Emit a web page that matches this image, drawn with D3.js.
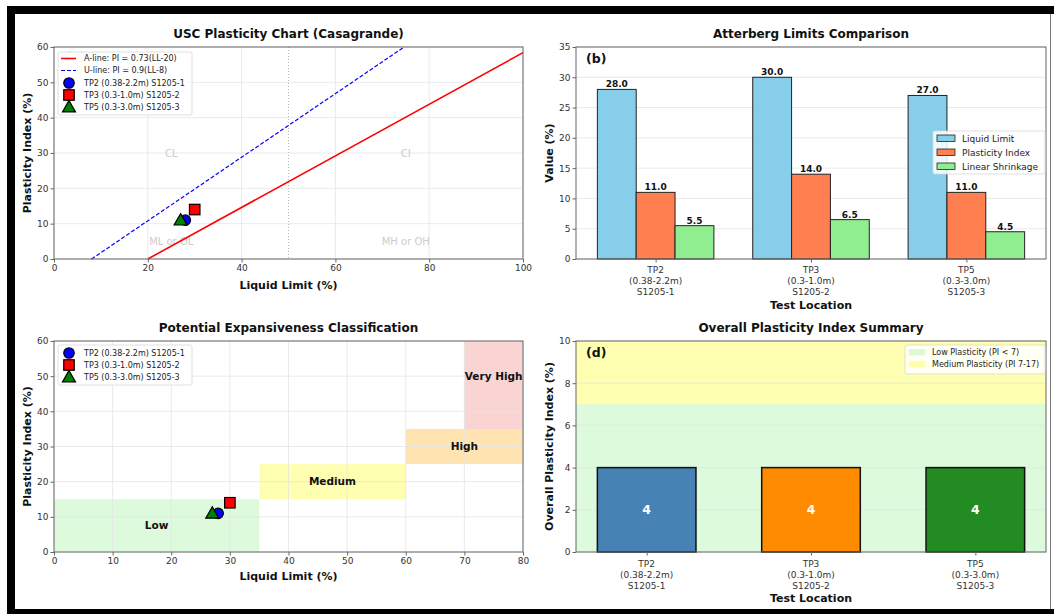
<!DOCTYPE html>
<html>
<head>
<meta charset="utf-8">
<script src="https://cdn.jsdelivr.net/npm/d3@7"></script>
<style>
body { margin: 0; background: #fff; font-family: "DejaVu Sans", sans-serif; }
.tick text { font-size: 9px; fill: #333; font-family: "DejaVu Sans", sans-serif; }
.tick line { stroke: #666; }
.domain { stroke: none; }
.title { font-size: 12px; font-weight: bold; fill: #111; }
.labels { font-size: 11px; font-weight: bold; fill: #111; }
.leg { font-size: 8px; fill: #222; }
.loc { font-size: 9px; fill: #333; font-family: "DejaVu Sans", sans-serif; }
</style>
</head>
<body>
<div id="chart"></div>
<script>
// sample data
var samples = ['TP2 (0.38-2.2m) S1205-1', 'TP3 (0.3-1.0m) S1205-2', 'TP5 (0.3-3.0m) S1205-3']
var locationLines = [['TP2', '(0.38-2.2m)', 'S1205-1'], ['TP3', '(0.3-1.0m)', 'S1205-2'], ['TP5', '(0.3-3.0m)', 'S1205-3']]
var liquidLimit = [28, 30, 27]
var plasticityIndex = [11, 14, 11]
var linearShrinkage = [5.5, 6.5, 4.5]
var overallPI = [4, 4, 4]
var markerShapes = ['circle', 'square', 'triangle']
var markerColors = ['blue', 'red', 'green']

var barSeries = ['Liquid Limit', 'Plasticity Index', 'Linear Shrinkage']
var barColors = ['#87CEEB', '#FF7F50', '#90EE90']
var summaryColors = ['#4682B4', '#FF8C00', '#228B22']

// casagrande chart lines and zone names
var aLineLL = [20, 100]
var uLineLL = [8, 74.67]
var casaZones = [
    {name: 'CL', ll: 25, pi: 30}, {name: 'CI', ll: 75, pi: 30},
    {name: 'ML or OL', ll: 25, pi: 5}, {name: 'MH or OH', ll: 75, pi: 5}
]

// expansiveness classes
var expZones = [
    {name: 'Low', ll0: 0, ll1: 35, pi0: 0, pi1: 15, pi: 7.5, color: 'rgba(144,238,144,0.3)'},
    {name: 'Medium', ll0: 35, ll1: 60, pi0: 15, pi1: 25, pi: 20, color: 'rgba(255,255,0,0.3)'},
    {name: 'High', ll0: 60, ll1: 80, pi0: 25, pi1: 35, pi: 30, color: 'rgba(255,165,0,0.3)'},
    {name: 'Very High', ll0: 70, ll1: 80, pi0: 35, pi1: 60, pi: 50, color: 'rgba(240,128,128,0.35)'}
]

// plasticity bands for the summary
var piBands = [
    {name: 'Low Plasticity (PI < 7)', lo: 0, hi: 7, color: 'rgba(144,238,144,0.3)'},
    {name: 'Medium Plasticity (PI 7-17)', lo: 7, hi: 17, color: 'rgba(255,255,0,0.3)'}
]

var svg = d3.select('#chart').append('svg')
    .attr('width', 1054).attr('height', 614)

// page frame
svg.append('rect').attr('x', 7).attr('y', 6).attr('width', 1047).attr('height', 608).attr('fill', '#000')
svg.append('rect').attr('x', 15).attr('y', 14).attr('width', 1039).attr('height', 595).attr('fill', '#fff')
svg.append('line').attr('x1', 1050.5).attr('x2', 1050.5).attr('y1', 14).attr('y2', 609).attr('stroke', '#777')

function marker(g, shape, color, cx, cy, s) {
    if (shape == 'circle') {
        g.append('circle').attr('cx', cx).attr('cy', cy).attr('r', s / 2)
            .attr('fill', color).attr('stroke', '#000').attr('stroke-width', 1.2)
    } else if (shape == 'square') {
        g.append('rect').attr('x', cx - s / 2).attr('y', cy - s / 2).attr('width', s).attr('height', s)
            .attr('fill', color).attr('stroke', '#000').attr('stroke-width', 1.2)
    } else {
        var t = s * 0.62
        g.append('path').attr('d', 'M' + cx + ',' + (cy - t) + 'L' + (cx + t) + ',' + (cy + t * 0.75) + 'L' + (cx - t) + ',' + (cy + t * 0.75) + 'Z')
            .attr('fill', color).attr('stroke', '#000').attr('stroke-width', 1.2)
    }
}

// common axes frame: grid, ticks, spines, titles
function panel(box, x, y, opts) {
    var g = svg.append('g')
    var w = box.r - box.l, h = box.b - box.t
    g.body = g.append('g')
    var grid = g.append('g')
    if (opts.xgrid) {
        grid.selectAll('.vg').data(opts.xticks).enter().append('line')
            .attr('x1', d => x(d)).attr('x2', d => x(d)).attr('y1', box.t).attr('y2', box.b)
            .attr('stroke', '#e4e4e4').attr('stroke-width', 0.8)
    }
    grid.selectAll('.hg').data(opts.yticks).enter().append('line')
        .attr('x1', box.l).attr('x2', box.r).attr('y1', d => y(d)).attr('y2', d => y(d))
        .attr('stroke', '#e4e4e4').attr('stroke-width', 0.8)
    g.plot = g.append('g')
    g.append('g').attr('transform', 'translate(' + box.l + ',0)')
        .call(d3.axisLeft(y).tickValues(opts.yticks).tickSize(3.5).tickPadding(2).tickFormat(d3.format('d')))
    g.xaxis = g.append('g').attr('transform', 'translate(0,' + box.b + ')')
    g.append('rect').attr('x', box.l).attr('y', box.t).attr('width', w).attr('height', h)
        .attr('fill', 'none').attr('stroke', '#666').attr('stroke-width', 1)
    g.append('text').attr('class', 'title').attr('x', (box.l + box.r) / 2).attr('y', box.t - 9)
        .attr('text-anchor', 'middle').text(opts.title)
    g.append('text').attr('class', 'labels').attr('text-anchor', 'middle')
        .attr('transform', 'translate(' + (box.l - 23) + ',' + ((box.t + box.b) / 2) + ') rotate(-90)')
        .text(opts.ylabel)
    g.append('text').attr('class', 'labels').attr('text-anchor', 'middle')
        .attr('x', (box.l + box.r) / 2).attr('y', box.b + opts.xlabelGap).text(opts.xlabel)
    return g
}

function legendBox(x0, y0, w, h) {
    var g = svg.append('g')
    g.append('rect').attr('x', x0).attr('y', y0).attr('width', w).attr('height', h).attr('rx', 2)
        .attr('fill', 'rgba(255,255,255,0.85)').attr('stroke', '#d8d8d8').attr('stroke-width', 0.8)
    return g
}

function locationTicks(g, x, top) {
    g.xaxis.call(d3.axisBottom(x).tickValues([0, 1, 2]).tickSize(3.5).tickFormat(''))
    var lab = g.xaxis.selectAll('.loc').data(locationLines).enter().append('text')
        .attr('class', 'loc').attr('text-anchor', 'middle')
    lab.each(function(d, i) {
        d3.select(this).selectAll('tspan').data(d).enter().append('tspan')
            .attr('x', x(i)).attr('y', (t, j) => top + j * 11.2).text(t => t)
    })
}

// ---------- (a) Casagrande chart ----------
var boxA = {l: 54, r: 523, t: 47, b: 259}
var xA = d3.scaleLinear().domain([0, 100]).range([boxA.l, boxA.r])
var yA = d3.scaleLinear().domain([0, 60]).range([boxA.b, boxA.t])
var pA = panel(boxA, xA, yA, {xgrid: true, xticks: [0, 20, 40, 60, 80, 100], yticks: [0, 10, 20, 30, 40, 50, 60],
    title: 'USC Plasticity Chart (Casagrande)', ylabel: 'Plasticity Index (%)', xlabel: 'Liquid Limit (%)', xlabelGap: 30})
pA.xaxis.call(d3.axisBottom(xA).tickValues([0, 20, 40, 60, 80, 100]).tickSize(3.5).tickPadding(2))

pA.plot.append('line').attr('x1', xA(50)).attr('x2', xA(50)).attr('y1', boxA.t).attr('y2', boxA.b)
    .attr('stroke', '#aaa').attr('stroke-width', 0.8).attr('stroke-dasharray', '1,2')
pA.plot.selectAll('.zone').data(casaZones).enter().append('text')
    .attr('x', d => xA(d.ll)).attr('y', d => yA(d.pi)).attr('dy', '0.35em').attr('text-anchor', 'middle')
    .style('font-size', '10px').style('fill', '#ccc').text(d => d.name)
pA.plot.append('text').attr('x', boxA.l + 12).attr('y', boxA.t + 14).style('font-size', '12px')
    .style('font-weight', 'bold').style('fill', '#ddd').text('(a)')

var aLine = d3.line().x(d => xA(d)).y(d => yA(0.73 * (d - 20)))
var uLine = d3.line().x(d => xA(d)).y(d => yA(0.9 * (d - 8)))
pA.plot.append('path').attr('d', aLine(aLineLL)).attr('stroke', 'red').attr('stroke-width', 1.6).attr('fill', 'none')
pA.plot.append('path').attr('d', uLine(uLineLL)).attr('stroke', 'blue').attr('stroke-width', 1.2)
    .attr('stroke-dasharray', '4,2').attr('fill', 'none')

samples.forEach(function(s, i) {
    marker(pA.plot, markerShapes[i], markerColors[i], xA(liquidLimit[i]), yA(plasticityIndex[i]), 10.5)
})

var legA = legendBox(58, 52, 134, 63)
legA.append('line').attr('x1', 61).attr('x2', 76).attr('y1', 58.5).attr('y2', 58.5).attr('stroke', 'red').attr('stroke-width', 1.6)
legA.append('line').attr('x1', 61).attr('x2', 76).attr('y1', 70.5).attr('y2', 70.5).attr('stroke', 'blue')
    .attr('stroke-width', 1.2).attr('stroke-dasharray', '4,2')
legA.append('text').attr('class', 'leg').attr('x', 84).attr('y', 58.5).attr('dy', '0.35em').text('A-line: PI = 0.73(LL-20)')
legA.append('text').attr('class', 'leg').attr('x', 84).attr('y', 70.5).attr('dy', '0.35em').text('U-line: PI = 0.9(LL-8)')
samples.forEach(function(s, i) {
    marker(legA, markerShapes[i], markerColors[i], 69, 83 + i * 12, 10.5)
    legA.append('text').attr('class', 'leg').attr('x', 84).attr('y', 83 + i * 12).attr('dy', '0.35em').text(s)
})

// ---------- (b) Atterberg limits ----------
var boxB = {l: 576, r: 1046, t: 47, b: 259}
var xB = d3.scaleLinear().domain([-0.5125, 2.5125]).range([boxB.l, boxB.r])
var yB = d3.scaleLinear().domain([0, 35]).range([boxB.b, boxB.t])
var pB = panel(boxB, xB, yB, {xgrid: false, yticks: [0, 5, 10, 15, 20, 25, 30, 35],
    title: 'Atterberg Limits Comparison', ylabel: 'Value (%)', xlabel: 'Test Location', xlabelGap: 50})
locationTicks(pB, xB, 13.5)

var barData = [liquidLimit, plasticityIndex, linearShrinkage]
var bw = 0.25
barData.forEach(function(vals, k) {
    var off = (k - 1) * bw
    pB.plot.selectAll('.bar' + k).data(vals).enter().append('rect')
        .attr('x', (d, i) => xB(i + off - bw / 2)).attr('width', xB(bw) - xB(0))
        .attr('y', d => yB(d)).attr('height', d => yB(0) - yB(d))
        .attr('fill', barColors[k]).attr('stroke', '#222').attr('stroke-width', 1)
    pB.plot.selectAll('.val' + k).data(vals).enter().append('text')
        .attr('x', (d, i) => xB(i + off)).attr('y', d => yB(d) - 2).attr('text-anchor', 'middle')
        .style('font-size', '9px').style('font-weight', 'bold').style('fill', '#111')
        .text(d => d.toFixed(1))
})
pB.plot.append('text').attr('x', boxB.l + 10).attr('y', boxB.t + 16).style('font-size', '12.5px')
    .style('font-weight', 'bold').style('fill', '#111').text('(b)')

var legB = legendBox(933, 131, 112, 43)
barSeries.forEach(function(s, i) {
    legB.append('rect').attr('x', 937).attr('y', 135 + i * 14).attr('width', 18).attr('height', 6.5)
        .attr('fill', barColors[i]).attr('stroke', '#222').attr('stroke-width', 0.8)
    legB.append('text').attr('class', 'leg').style('font-size', '9px').attr('x', 962).attr('y', 138.5 + i * 14).attr('dy', '0.35em').text(s)
})

// ---------- (c) Expansiveness ----------
var boxC = {l: 54, r: 523, t: 341, b: 552}
var xC = d3.scaleLinear().domain([0, 80]).range([boxC.l, boxC.r])
var yC = d3.scaleLinear().domain([0, 60]).range([boxC.b, boxC.t])
var pC = panel(boxC, xC, yC, {xgrid: true, xticks: d3.range(0, 81, 10), yticks: [0, 10, 20, 30, 40, 50, 60],
    title: 'Potential Expansiveness Classification', ylabel: 'Plasticity Index (%)', xlabel: 'Liquid Limit (%)', xlabelGap: 28})
pC.xaxis.call(d3.axisBottom(xC).tickValues(d3.range(0, 81, 10)).tickSize(3.5).tickPadding(2))

pC.body.selectAll('.ez').data(expZones).enter().append('rect')
    .attr('x', d => xC(d.ll0)).attr('width', d => xC(d.ll1) - xC(d.ll0))
    .attr('y', d => yC(d.pi1)).attr('height', d => yC(d.pi0) - yC(d.pi1))
    .attr('fill', d => d.color)
pC.plot.selectAll('.ezl').data(expZones).enter().append('text')
    .attr('x', d => xC((d.ll0 + d.ll1) / 2))
    .attr('y', d => yC(d.pi)).attr('dy', '0.35em').attr('text-anchor', 'middle')
    .style('font-size', '10.5px').style('font-weight', 'bold').style('fill', '#111').text(d => d.name)

samples.forEach(function(s, i) {
    marker(pC.plot, markerShapes[i], markerColors[i], xC(liquidLimit[i]), yC(plasticityIndex[i]), 10.5)
})
var legC = legendBox(58, 345, 134, 40)
samples.forEach(function(s, i) {
    marker(legC, markerShapes[i], markerColors[i], 69, 353 + i * 12, 10.5)
    legC.append('text').attr('class', 'leg').attr('x', 84).attr('y', 353 + i * 12).attr('dy', '0.35em').text(s)
})

// ---------- (d) Overall PI summary ----------
var boxD = {l: 576, r: 1046, t: 341, b: 552}
var xD = d3.scaleLinear().domain([-0.43, 2.43]).range([boxD.l, boxD.r])
var yD = d3.scaleLinear().domain([0, 10]).range([boxD.b, boxD.t])
var pD = panel(boxD, xD, yD, {xgrid: false, yticks: [0, 2, 4, 6, 8, 10],
    title: 'Overall Plasticity Index Summary', ylabel: 'Overall Plasticity Index (%)', xlabel: 'Test Location', xlabelGap: 50})
locationTicks(pD, xD, 14.5)

pD.body.selectAll('.band').data(piBands).enter().append('rect')
    .attr('x', boxD.l).attr('width', boxD.r - boxD.l)
    .attr('y', d => yD(Math.min(d.hi, 10))).attr('height', d => yD(d.lo) - yD(Math.min(d.hi, 10)))
    .attr('fill', d => d.color)
pD.plot.selectAll('.sbar').data(overallPI).enter().append('rect')
    .attr('x', (d, i) => xD(i - 0.3)).attr('width', xD(0.6) - xD(0))
    .attr('y', d => yD(d)).attr('height', d => yD(0) - yD(d))
    .attr('fill', (d, i) => summaryColors[i]).attr('stroke', '#111').attr('stroke-width', 1.5)
pD.plot.selectAll('.sval').data(overallPI).enter().append('text')
    .attr('x', (d, i) => xD(i)).attr('y', d => yD(d / 2)).attr('dy', '0.35em').attr('text-anchor', 'middle')
    .style('font-size', '12.5px').style('font-weight', 'bold').style('fill', '#fff').text(d => d)
pD.plot.append('text').attr('x', boxD.l + 10).attr('y', boxD.t + 16).style('font-size', '12.5px')
    .style('font-weight', 'bold').style('fill', '#111').text('(d)')

var legD = legendBox(905, 345, 140, 29)
piBands.forEach(function(b, i) {
    legD.append('rect').attr('x', 909).attr('y', 349 + i * 12).attr('width', 16).attr('height', 6.5).attr('fill', b.color)
    legD.append('text').attr('class', 'leg').attr('x', 932).attr('y', 352.5 + i * 12).attr('dy', '0.35em').text(b.name)
})
</script>
</body>
</html>
